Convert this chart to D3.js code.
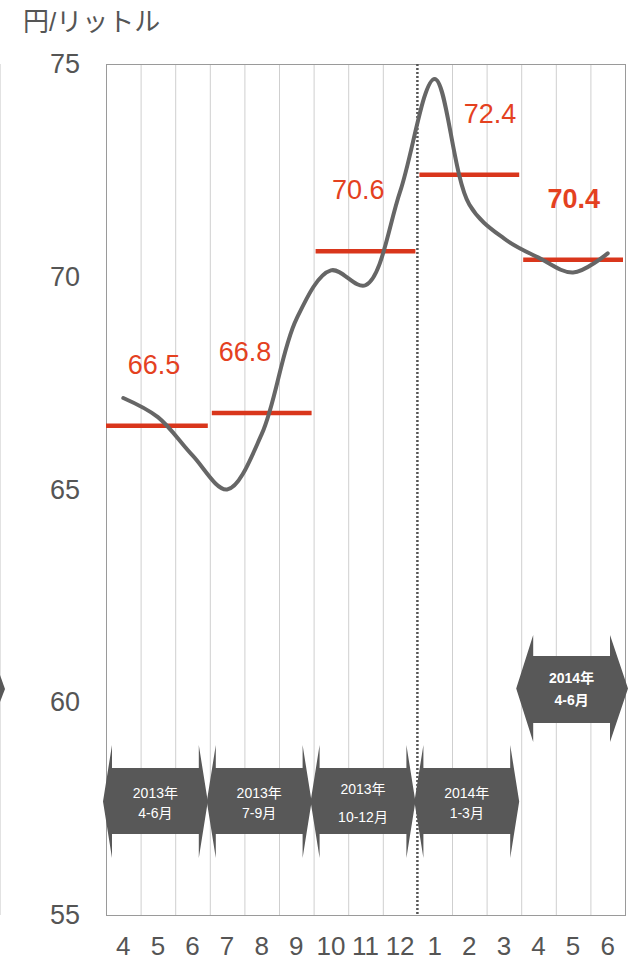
<!DOCTYPE html>
<html>
<head>
<meta charset="utf-8">
<script src="https://cdn.jsdelivr.net/npm/d3@7"></script>
<style>
html,body{margin:0;padding:0;background:#fff;}
svg{display:block;}
text{font-family:"Liberation Sans",Arial,"Noto Sans CJK JP",sans-serif;}
</style>
</head>
<body>
<svg id="chart" width="633" height="964"></svg>
<script>
// ---- data ----
const months = ["4","5","6","7","8","9","10","11","12","1","2","3","4","5","6"];
const prices = [67.15, 66.7, 65.8, 65.0, 66.3, 69.0, 70.15, 69.8, 72.0, 74.65, 71.7, 70.9, 70.45, 70.1, 70.55];
const quarterAverages = [66.5, 66.8, 70.6, 72.4, 70.4];
const quarterYears = ["2013年","2013年","2013年","2014年","2014年"];
const quarterMonths = ["4-6月","7-9月","10-12月","1-3月","4-6月"];
const yTicks = [55, 60, 65, 70, 75];
const unitLabel = "円/リットル";

// ---- layout (not data) ----
const labelBandPos = [1.39, 4.02, 7.29, 11.1, 13.52]; // label centres in band units
const pLeft = 106, pRight = 625, pTop = 64, pBottom = 915;
const red = "#d9361c", redText = "#e4411f", gray = "#555";

const svg = d3.select("#chart");
const x = d3.scaleBand().domain(d3.range(months.length)).range([pLeft, pRight]).padding(0);
const y = d3.scaleLinear().domain([55, 75]).range([pBottom, pTop]);
const bw = x.bandwidth();
const edge = i => pLeft + i * bw;

// faint left edge line + partial arrow tip (cropped neighbour)
svg.append("line").attr("x1",0.5).attr("x2",0.5).attr("y1",pTop).attr("y2",pBottom)
  .attr("stroke","#e2e2e2").attr("stroke-width",1);
svg.append("polygon").attr("points","0,675 5,689 0,702").attr("fill","#585858");

// grid lines
const gridIdx = d3.range(1, months.length).filter(i => i !== 9);
svg.append("g").selectAll("line").data(gridIdx).join("line")
  .attr("x1", i => edge(i) + 0.5).attr("x2", i => edge(i) + 0.5)
  .attr("y1", pTop).attr("y2", pBottom)
  .attr("stroke", "#cfcfcf").attr("stroke-width", 1);

// border
svg.append("rect").attr("x", pLeft + 0.5).attr("y", pTop + 0.5)
  .attr("width", pRight - pLeft).attr("height", pBottom - pTop)
  .attr("fill", "none").attr("stroke", "#9a9a9a").attr("stroke-width", 1);

// dotted separator between Dec and Jan
svg.append("line").attr("x1", edge(9)).attr("x2", edge(9))
  .attr("y1", pTop).attr("y2", pBottom)
  .attr("stroke", "#555").attr("stroke-width", 2.5).attr("stroke-dasharray", "2,2");

// y axis
const yAxis = d3.axisLeft(y).tickValues(yTicks).tickSize(0).tickPadding(pLeft - 80);
const gy = svg.append("g").attr("transform", `translate(${pLeft},0)`).call(yAxis);
gy.select(".domain").remove();
gy.selectAll("text").attr("font-size", 27).attr("fill", gray)
  .attr("font-family", '"Liberation Sans",Arial,sans-serif');

// x axis
const xAxis = d3.axisBottom(x).tickFormat(i => months[i]).tickSize(0).tickPadding(22);
const gx = svg.append("g").attr("transform", `translate(0,${pBottom})`).call(xAxis);
gx.select(".domain").remove();
gx.selectAll("text").attr("font-size", 26).attr("fill", gray)
  .attr("font-family", '"Liberation Sans",Arial,sans-serif');

// unit label
svg.append("text").attr("x", 23).attr("y", 31).text(unitLabel)
  .attr("font-size", 26).attr("fill", gray)
  .attr("font-family", '"Noto Sans CJK JP",sans-serif');

// quarter average bars
svg.append("g").selectAll("line").data(quarterAverages).join("line")
  .attr("x1", (d, i) => i === 0 ? edge(0) : edge(i * 3) + 2)
  .attr("x2", (d, i) => edge(i * 3 + 3) - 2)
  .attr("y1", d => y(d)).attr("y2", d => y(d))
  .attr("stroke", red).attr("stroke-width", 4.5);

// price line
const line = d3.line()
  .x((d, i) => x(i) + bw / 2)
  .y(d => y(d))
  .curve(d3.curveCatmullRom.alpha(0.5));
svg.append("path").datum(prices).attr("d", line)
  .attr("fill", "none").attr("stroke", "#666").attr("stroke-width", 4)
  .attr("stroke-linecap", "round");

// average labels
svg.append("g").selectAll("text").data(quarterAverages).join("text")
  .attr("x", (d, i) => pLeft + labelBandPos[i] * bw)
  .attr("y", d => y(d) - 52)
  .attr("text-anchor", "middle")
  .attr("font-size", 27)
  .attr("font-weight", (d, i) => i === 4 ? "bold" : "normal")
  .attr("fill", redText)
  .text(d => d.toFixed(1));

// quarter arrows
function arrowPath(tl, bl, br, tr, yT, bT, bB, yB) {
  const mid = (yT + yB) / 2;
  return `M${tl},${mid} L${bl},${yT} L${bl},${bT} L${br},${bT} L${br},${yT} L${tr},${mid} L${br},${yB} L${br},${bB} L${bl},${bB} L${bl},${yB} Z`;
}
const arrows = svg.append("g");
quarterYears.forEach((yr, i) => {
  const b0 = edge(i * 3), b1 = edge(i * 3 + 3);
  let tl, bl, br, tr, yT, bT, bB, yB, t1, t2, bold = false;
  if (i < 4) {
    tl = b0 - 3; bl = tl + 9; tr = b1 - 2; br = tr - 9;
    yT = 745; bT = 768; bB = 834; yB = 858;
    if (i === 2) { t1 = 789; t2 = 817; } else { t1 = 793; t2 = 813; }
  } else {
    tl = b0 - 5; bl = tl + 17; tr = b1 + 3; br = tr - 18;
    yT = 635; bT = 656; bB = 723; yB = 742;
    t1 = 678; t2 = 700; bold = true;
  }
  arrows.append("path").attr("d", arrowPath(tl, bl, br, tr, yT, bT, bB, yB))
    .attr("fill", "#585858");
  const cx = (bl + br) / 2;
  [[yr, t1], [quarterMonths[i], t2]].forEach(([s, ty]) => {
    arrows.append("text").attr("x", cx).attr("y", ty).attr("dy", "0.35em")
      .attr("text-anchor", "middle").attr("font-size", 14)
      .attr("font-weight", bold ? "bold" : "normal")
      .attr("fill", "#fff").text(s);
  });
});
</script>
</body>
</html>
